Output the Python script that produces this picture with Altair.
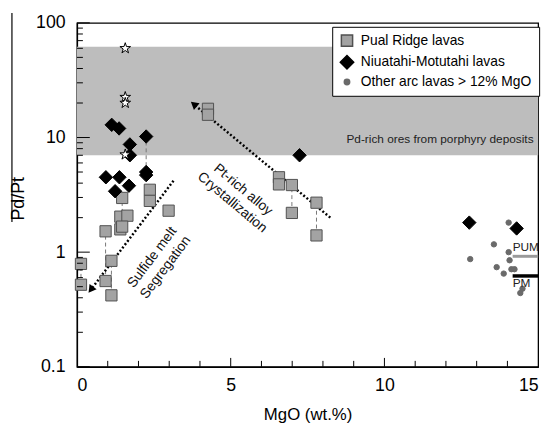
import altair as alt
import pandas as pd

FONT = "Liberation Sans"

# ---------------- data ----------------
pual_x = [0.13, 0.13, 0.93, 0.93, 1.12, 1.12, 1.41, 1.64, 1.41, 1.47, 1.47, 2.37, 2.37, 2.98,
          4.26, 4.26, 6.57, 6.57, 6.99, 6.99, 7.79, 7.79]
pual_y = [0.79, 0.52, 1.52, 0.56, 0.84, 0.42, 2.04, 2.08, 1.58, 1.67, 2.97, 3.5, 2.8, 2.3,
          17.8, 15.8, 4.5, 3.9, 3.85, 2.2, 2.7, 1.4]

niu_x = [1.13, 1.37, 1.72, 1.72, 2.25, 2.25, 2.25, 0.94, 1.38, 1.24, 1.69, 7.24, 12.76, 14.3]
niu_y = [12.9, 12.0, 8.7, 7.0, 10.2, 5.0, 4.7, 4.5, 4.5, 3.4, 3.8, 7.0, 1.81, 1.61]

other_x = [14.04, 13.56, 14.04, 12.79, 14.07, 13.65, 14.13, 14.23, 13.88, 14.49, 14.42]
other_y = [1.81, 1.17, 1.0, 0.87, 0.85, 0.74, 0.71, 0.71, 0.65, 0.48, 0.44]

star_x = [1.57, 1.57, 1.57, 1.57]
star_y = [60, 22.5, 20, 7.1]

# dashed connectors between replicate analyses
conn_x = [0.13, 0.93, 1.12, 1.47, 2.25, 6.99, 7.79]
conn_y1 = [0.52, 0.56, 0.42, 1.67, 4.9, 2.2, 1.4]
conn_y2 = [0.79, 1.52, 0.84, 2.97, 10.2, 3.85, 2.7]

band_x = [0, 15]
band_y = [7, 62]

series_names = ["Pual Ridge lavas", "Niuatahi-Motutahi lavas", "Other arc lavas > 12% MgO"]

# trend arrows (tail, head)
sulf_x = [3.14, 0.45]
sulf_y = [4.2, 0.47]
pt_x = [8.24, 3.8]
pt_y = [2.0, 19.5]

pum_x = [14.17, 15]
pum_y = 0.92
pm_x = [14.17, 15]
pm_y = 0.62

y_major = [0.1, 1, 10, 100]
y_minor = [m * d for d in [0.1, 1, 10] for m in range(2, 10)]
x_major = [5, 10]
x_minor = [1, 2, 3, 4, 6, 7, 8, 9, 11, 12, 13, 14]

W, H = 468, 349

# ---------------- encodings ----------------
x_scale = alt.Scale(domain=[0, 15], nice=False, zero=False)
y_scale = alt.Scale(type="log", domain=[0.1, 100], nice=False)

x_axis = alt.Axis(values=[0, 5, 10, 15], ticks=False, tickSize=0, grid=False,
                  title="MgO (wt.%)", labelFontSize=18, titleFontSize=17,
                  titleFontWeight="normal", labelPadding=10, titlePadding=12,
                  labelFont=FONT, titleFont=FONT, labelColor="black", titleColor="black",
                  domainColor="black", domainWidth=1.3)
y_axis = alt.Axis(values=y_major, format="~g", ticks=False, tickSize=0, grid=False,
                  title="Pd/Pt", labelFontSize=18, titleFontSize=18,
                  titleFontWeight="normal", labelPadding=12, labelFont=FONT,
                  titleFont=FONT, labelColor="black", titleColor="black",
                  domainColor="black", domainWidth=1.3, titleX=-59, titleY=178,
                  titleAngle=270, titleBaseline="middle", titleAlign="center")


def X(field="x"):
    return alt.X(f"{field}:Q", scale=x_scale, axis=x_axis)


def Y(field="y"):
    return alt.Y(f"{field}:Q", scale=y_scale, axis=y_axis)


# ---------------- layers ----------------
band = alt.Chart(pd.DataFrame({"x": [band_x[0]], "x2": [band_x[1]],
                               "y": [band_y[0]], "y2": [band_y[1]]})).mark_rect(
    color="#bdbdbd").encode(x=X(), x2="x2:Q", y=Y(), y2="y2:Q")

band_label = alt.Chart(pd.DataFrame({"x": [14.85], "y": [9.6]})).mark_text(
    text="Pd-rich ores from porphyry deposits", align="right", baseline="middle",
    fontSize=12, font=FONT, color="#222").encode(x=X(), y=Y())

conn = alt.Chart(pd.DataFrame({"x": conn_x, "y": conn_y1, "y2": conn_y2})).mark_rule(
    color="#777", strokeDash=[4, 3], strokeWidth=1).encode(x=X(), y=Y(), y2="y2:Q")

arrows_df = pd.DataFrame({"x": sulf_x + pt_x, "y": sulf_y + pt_y,
                          "g": ["s", "s", "p", "p"], "o": [0, 1, 0, 1]})
arrow_lines = alt.Chart(arrows_df).mark_line(
    color="black", strokeDash=[2, 2.2], strokeWidth=2.5).encode(
    x=X(), y=Y(), detail="g:N", order="o:Q")

head_s = alt.Chart(pd.DataFrame({"x": [sulf_x[1]], "y": [sulf_y[1]]})).mark_point(
    shape="triangle-up", filled=True, color="black", size=80, angle=217, opacity=1).encode(
    x=X(), y=Y())
head_p = alt.Chart(pd.DataFrame({"x": [pt_x[1]], "y": [pt_y[1]]})).mark_point(
    shape="triangle-up", filled=True, color="black", size=80, angle=310, opacity=1).encode(
    x=X(), y=Y())

pts_df = pd.DataFrame({
    "x": pual_x + niu_x + other_x,
    "y": pual_y + niu_y + other_y,
    "series": [series_names[0]] * len(pual_x) + [series_names[1]] * len(niu_x)
    + [series_names[2]] * len(other_x),
})
leg = alt.Legend(title=None)
points = alt.Chart(pts_df).mark_point(opacity=1, strokeWidth=1).encode(
    x=X(), y=Y(),
    shape=alt.Shape("series:N", scale=alt.Scale(domain=series_names,
                    range=["square", "diamond", "circle"]), legend=leg),
    fill=alt.Fill("series:N", scale=alt.Scale(domain=series_names,
                  range=["#a3a3a3", "#000000", "#6a6a6a"]), legend=leg),
    stroke=alt.Stroke("series:N", scale=alt.Scale(domain=series_names,
                      range=["#505050", "#000000", "#6a6a6a"]), legend=leg),
    size=alt.Size("series:N", scale=alt.Scale(type="ordinal", domain=series_names,
                  range=[130, 185, 30]), legend=leg),
)

stars = alt.Chart(pd.DataFrame({"x": star_x, "y": star_y})).mark_point(
    shape="M0,-1L0.2245,-0.309L0.951,-0.309L0.3633,0.118L0.5878,0.809L0,0.382L-0.5878,0.809L-0.3633,0.118L-0.951,-0.309L-0.2245,-0.309Z",
    fill="white", stroke="black", strokeWidth=1, size=130, opacity=1).encode(x=X(), y=Y())

pum = alt.Chart(pd.DataFrame({"x": [pum_x[0]], "x2": [pum_x[1]], "y": [pum_y]})).mark_rule(
    color="#9a9a9a", strokeWidth=3).encode(x=X(), x2="x2:Q", y=Y())
pm = alt.Chart(pd.DataFrame({"x": [pm_x[0]], "x2": [pm_x[1]], "y": [pm_y]})).mark_rule(
    color="black", strokeWidth=3.5).encode(x=X(), x2="x2:Q", y=Y())
pum_lab = alt.Chart(pd.DataFrame({"x": [pum_x[0]], "y": [pum_y]})).mark_text(
    text="PUM", align="left", baseline="bottom", dy=-2, fontSize=12, font=FONT,
    color="#222").encode(x=X(), y=Y())
pm_lab = alt.Chart(pd.DataFrame({"x": [pm_x[0]], "y": [pm_y]})).mark_text(
    text="PM", align="left", baseline="top", dy=2, fontSize=12, font=FONT,
    color="#222").encode(x=X(), y=Y())

sulf_text = alt.Chart(pd.DataFrame({"x": [2.45], "y": [0.9]})).mark_text(
    text=["Sulfide melt", "Segregation"], angle=307, align="center", baseline="middle",
    fontSize=14, font=FONT, lineHeight=17, color="#111").encode(x=X(), y=Y())
pt_text = alt.Chart(pd.DataFrame({"x": [5.4], "y": [3.5]})).mark_text(
    text=["Pt-rich alloy", "Crystallization"], angle=40, align="center", baseline="middle",
    fontSize=14, font=FONT, lineHeight=17, color="#111").encode(x=X(), y=Y())

# inward axis ticks
ytick_major = alt.Chart(pd.DataFrame({"y": y_major})).mark_rule(
    color="black", strokeWidth=1).encode(y=Y(), x=alt.value(0), x2=alt.value(13))
ytick_minor = alt.Chart(pd.DataFrame({"y": y_minor})).mark_rule(
    color="black", strokeWidth=1).encode(y=Y(), x=alt.value(0), x2=alt.value(6))
xtick_major = alt.Chart(pd.DataFrame({"x": x_major})).mark_rule(
    color="black", strokeWidth=1).encode(x=X(), y=alt.value(H), y2=alt.value(H - 9))
xtick_minor = alt.Chart(pd.DataFrame({"x": x_minor})).mark_rule(
    color="black", strokeWidth=1).encode(x=X(), y=alt.value(H), y2=alt.value(H - 6))

# fraction bar beside the y title
title_bar = alt.Chart(pd.DataFrame({"k": [0]})).mark_rule(
    color="black", strokeWidth=1.2).encode(x=alt.value(-66), y=alt.value(-10), y2=alt.value(202))

chart = alt.layer(
    band, band_label, conn, arrow_lines, head_s, head_p, points, stars,
    pum, pm, pum_lab, pm_lab, sulf_text, pt_text,
    ytick_major, ytick_minor, xtick_major, xtick_minor, title_bar,
).properties(
    width=W, height=H,
    autosize=alt.AutoSizeParams(type="none"),
    padding={"left": 70, "top": 12, "right": 11, "bottom": 58},
).configure_view(
    stroke="black", strokeWidth=1.3
).configure_legend(
    orient="none", legendX=259, legendY=4, fillColor="white", strokeColor="black",
    padding=7, labelFontSize=14, labelFont=FONT, labelColor="black", rowPadding=3,
    labelOffset=6, labelLimit=400
)

chart.save("out.html", embed_options={"renderer": "svg", "actions": False})
